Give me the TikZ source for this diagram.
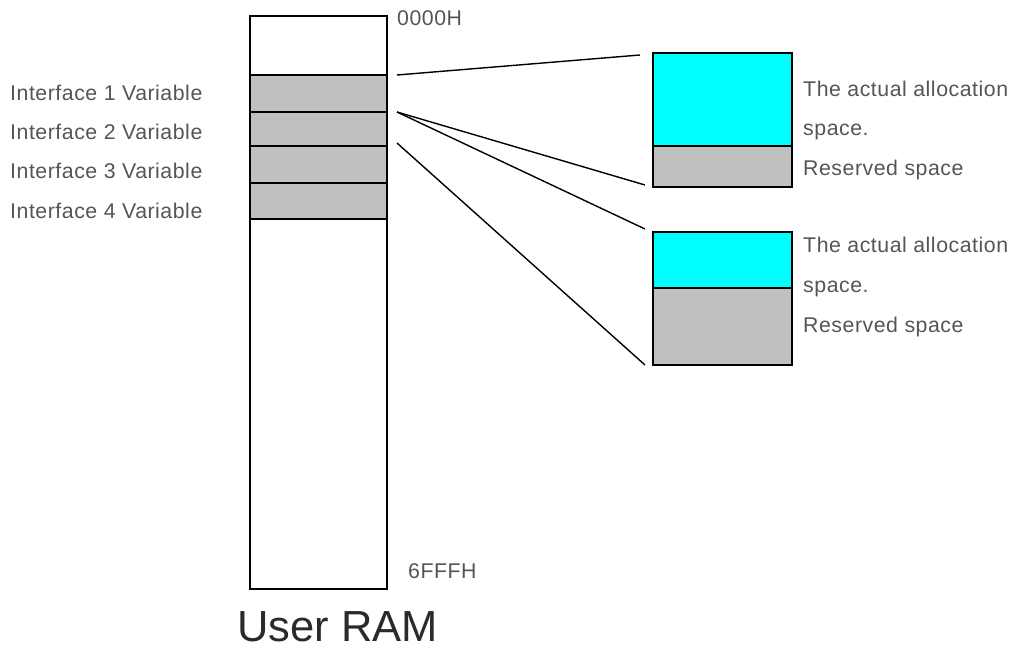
\documentclass[tikz,border=0pt]{standalone}
\usepackage{fontspec}
\setmainfont{Liberation Sans}
\newfontfamily\spacedsans[LetterSpace=2.5]{Liberation Sans}
\definecolor{memgray}{HTML}{C0C0C0}
\definecolor{memcyan}{HTML}{00FFFF}
\definecolor{labelgray}{HTML}{555555}
\definecolor{titlegray}{HTML}{2A2A2A}
\begin{document}
\begin{tikzpicture}[x=1pt,y=-1pt,
  cell/.style={draw=black,line width=1.6pt,inner sep=0pt,outer sep=0pt,anchor=north west},
  wcell/.style={cell,fill=white},
  gcell/.style={cell,fill=memgray},
  ccell/.style={cell,fill=memcyan},
  lbl/.style={anchor=base west,inner sep=0pt,text=labelgray,font=\spacedsans\fontsize{21.3}{24}\selectfont},
  conn/.style={draw=black,line width=1.4pt}]
\useasboundingbox (0,0) rectangle (1014,652);
% RAM column
\node[wcell,minimum width=137pt,minimum height=59pt] (ramtop) at (250,16) {};
\node[gcell,minimum width=137pt,minimum height=37pt] (v1) at (250,75) {};
\node[gcell,minimum width=137pt,minimum height=34pt] (v2) at (250,112) {};
\node[gcell,minimum width=137pt,minimum height=37pt] (v3) at (250,146) {};
\node[gcell,minimum width=137pt,minimum height=36pt] (v4) at (250,183) {};
\node[wcell,minimum width=137pt,minimum height=370pt] (rambot) at (250,219) {};
% right boxes
\node[ccell,minimum width=139pt,minimum height=93pt] (a1) at (653,53) {};
\node[gcell,minimum width=139pt,minimum height=41pt] (r1) at (653,146) {};
\node[ccell,minimum width=139pt,minimum height=56pt] (a2) at (653,232) {};
\node[gcell,minimum width=139pt,minimum height=77pt] (r2) at (653,288) {};
% connector end points
\coordinate (s1) at (397,75);
\coordinate (s2) at (397,112);
\coordinate (s4) at (397,143);
\coordinate (e1) at (640,55);
\coordinate (e2) at (645,185);
\coordinate (e3) at (645,229);
\coordinate (e4) at (645,365);
\draw[conn] (s1) -- (e1);
\draw[conn] (s2) -- (e2);
\draw[conn] (s2) -- (e3);
\draw[conn] (s4) -- (e4);
% labels
\node[lbl] (l1) at (10,101) {Interface 1 Variable};
\node[lbl] (l2) at (10,140) {Interface 2 Variable};
\node[lbl] (l3) at (10,179) {Interface 3 Variable};
\node[lbl] (l4) at (10,219) {Interface 4 Variable};
\node[lbl] (t1) at (803,97) {The actual allocation};
\node[lbl] (t2) at (803,136) {space.};
\node[lbl] (t3) at (803,176) {Reserved space};
\node[lbl] (t4) at (803,253) {The actual allocation};
\node[lbl] (t5) at (803,292) {space.};
\node[lbl] (t6) at (803,332) {Reserved space};
\node[lbl] (addr0) at (397,26) {0000H};
\node[lbl] (addr1) at (408,578) {6FFFH};
\node[anchor=base west,inner sep=0pt,text=titlegray,font=\fontsize{43.5}{48}\selectfont] (title) at (237,641) {User RAM};
\end{tikzpicture}
\end{document}
